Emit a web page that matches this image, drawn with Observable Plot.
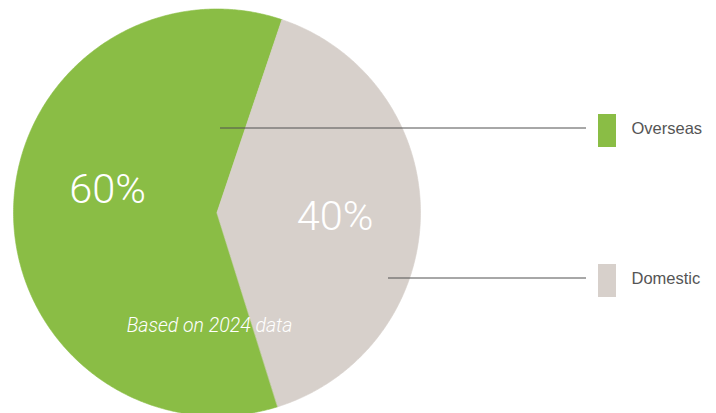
<!DOCTYPE html>
<html><head><meta charset="utf-8">
<script src="https://cdn.jsdelivr.net/npm/d3@7"></script>
<script src="https://cdn.jsdelivr.net/npm/@observablehq/plot@0.6"></script>
<style>html,body{margin:0;padding:0;background:#fff;overflow:hidden} svg{display:block}</style>
</head><body><div id="chart"></div>
<script>
const categories = ["Overseas", "Domestic"];
const shares = [60, 40];
const sliceLabels = ["60%", "40%"];
const note = "Based on 2024 data";
const colors = ["#8abd45", "#d7d0cb"];

const W = 716, H = 413, cx = 216.5, cy = 212, R = 203.5;
const start = 162.6 * Math.PI / 180;
const pie = d3.pie().sort(null).startAngle(start).endAngle(start + 2 * Math.PI);
const arcs = pie(shares);
const poly = [];
arcs.forEach((a, i) => {
  const n = Math.ceil((a.endAngle - a.startAngle) / (Math.PI / 360));
  poly.push({cat: categories[i], x: cx, y: cy});
  for (let k = 0; k <= n; k++) {
    const t = a.startAngle + (a.endAngle - a.startAngle) * k / n;
    poly.push({cat: categories[i], x: cx + R * Math.sin(t), y: cy - R * Math.cos(t)});
  }
});

const legend = categories.map((c, i) => ({cat: c, i}));
const lineStart = [220, 388];
const pctPos = [[107, 202], [334.5, 229]];

const chart = Plot.plot({
  width: W, height: H, margin: 0,
  x: {type: "identity", axis: null}, y: {type: "identity", axis: null},
  color: {domain: categories, range: colors},
  style: {background: "#fff", overflow: "hidden"},
  marks: [
    Plot.line(poly, {x: "x", y: "y", z: "cat", fill: "cat", stroke: "cat", strokeWidth: 0.6, curve: "linear-closed"}),
    Plot.text(sliceLabels, {x: (d, i) => pctPos[i][0], y: (d, i) => pctPos[i][1], text: d => d, fill: "#fff", fontSize: 41.5, fontWeight: 300, fontFamily: "Roboto", lineAnchor: "bottom", textAnchor: "middle"}),
    Plot.text([note], {x: 209, y: 331, text: d => d, fill: "#fff", fontSize: 19.5, fontWeight: 300, fontStyle: "italic", fontFamily: "Roboto", lineAnchor: "bottom", textAnchor: "middle"}),
    Plot.ruleY(legend, {y: d => 127.5 + d.i * 150, x1: d => lineStart[d.i], x2: 586, stroke: "#505050", strokeWidth: 1}),
    Plot.rect(legend, {x1: 598, x2: 616, y1: d => 114 + d.i * 150, y2: d => 147 + d.i * 150, fill: "cat"}),
    Plot.text(legend, {x: 631, y: d => 133 + d.i * 150, text: "cat", fill: "#555", fontSize: 16.5, fontFamily: "Liberation Sans", lineAnchor: "bottom", textAnchor: "start"})
  ]
});
document.getElementById("chart").append(chart);
</script></body></html>
